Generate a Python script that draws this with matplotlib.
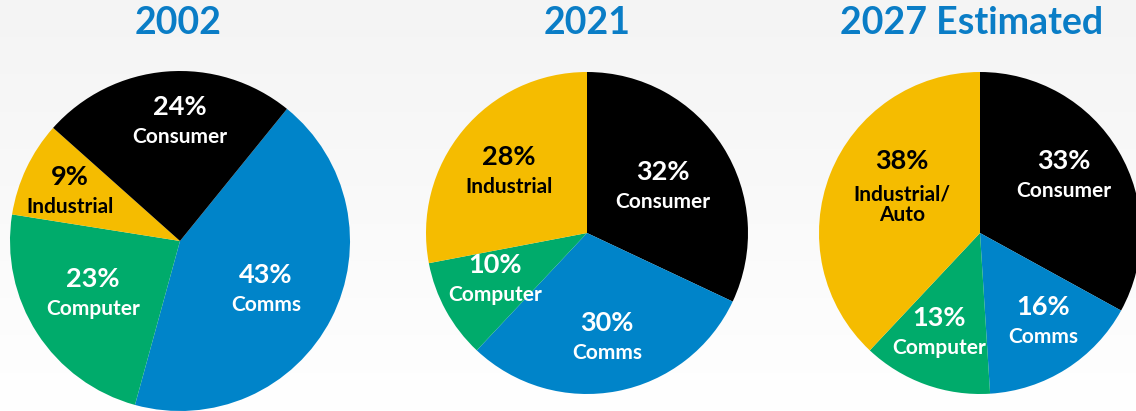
import numpy as np
import matplotlib
matplotlib.use("Agg")
import matplotlib.pyplot as plt

# ---- data ----
titles = ["2002", "2021", "2027 Estimated"]

labels_2002 = ["Comms", "Computer", "Industrial", "Consumer"]
values_2002 = [43, 23, 9, 24]

labels_2021 = ["Consumer", "Comms", "Computer", "Industrial"]
values_2021 = [32, 30, 10, 28]

labels_2027 = ["Consumer", "Comms", "Computer", "Industrial/\nAuto"]
values_2027 = [33, 16, 13, 38]

# ---- style ----
COLORS = {"Comms": "#0084C9", "Computer": "#00AB6B", "Industrial": "#F5BC00",
          "Industrial/\nAuto": "#F5BC00", "Consumer": "#000000"}
TEXT_COLORS = {"Comms": "white", "Computer": "white", "Industrial": "black",
               "Industrial/\nAuto": "black", "Consumer": "white"}
TITLE_COLOR = "#0A7DC6"
FONT = ["Lato", "DejaVu Sans"]

W, H = 1136, 411
fig = plt.figure(figsize=(W / 100, H / 100), dpi=100)
ax = fig.add_axes([0, 0, 1, 1])

# background gradient (light gray top -> white bottom)
grad = np.linspace(0, 1, 256)[:, None]
cmap = matplotlib.colors.LinearSegmentedColormap.from_list("bg", ["#F4F4F4", "#FFFFFF"])
ax.imshow(grad, extent=(0, W, 0, H), origin="upper", cmap=cmap, aspect="auto", zorder=0)

# layout: pie centre (x, y from top), radius, start angle (clockwise from top),
# label-pair offsets (dx, dy up) from pie centre
layouts = [
    dict(cx=180, cy=241, r=170, start=39, title_x=178,
         offsets=[(86, -49), (-87, -53), (-110, 49), (0, 119)]),
    dict(cx=587, cy=233, r=161, start=0, title_x=587,
         offsets=[(76, 46), (20, -105), (-92, -47), (-78, 61)]),
    dict(cx=980, cy=233, r=161, start=0, title_x=972,
         offsets=[(84, 57), (63, -89), (-41, -100), (-78, 57)]),
]
datasets = [(labels_2002, values_2002), (labels_2021, values_2021), (labels_2027, values_2027)]

for title, lay, (labs, vals) in zip(titles, layouts, datasets):
    cx, cy = lay["cx"], H - lay["cy"]
    ax.pie(vals, colors=[COLORS[l] for l in labs], center=(cx, cy), radius=lay["r"],
           startangle=90 - lay["start"], counterclock=False,
           wedgeprops=dict(linewidth=0), frame=True)
    ax.text(lay["title_x"], H - 23, title, ha="center", va="center", fontsize=27,
            fontweight="bold", color=TITLE_COLOR, family=FONT)
    for lab, v, (dx, dy) in zip(labs, vals, lay["offsets"]):
        tc = TEXT_COLORS[lab]
        nlines = lab.count("\n") + 1
        ax.text(cx + dx, cy + dy + 15, f"{v}%", ha="center", va="center", fontsize=19.5,
                fontweight="bold", color=tc, family=FONT)
        ax.text(cx + dx, cy + dy - 15 - 13.5 * (nlines - 1), lab, ha="center", va="center",
                fontsize=15, fontweight="bold", color=tc, family=FONT,
                linespacing=1.05)

ax.set_xlim(0, W)
ax.set_ylim(0, H)
ax.set_aspect("equal")
ax.axis("off")
fig.savefig("out.png", dpi=100)
